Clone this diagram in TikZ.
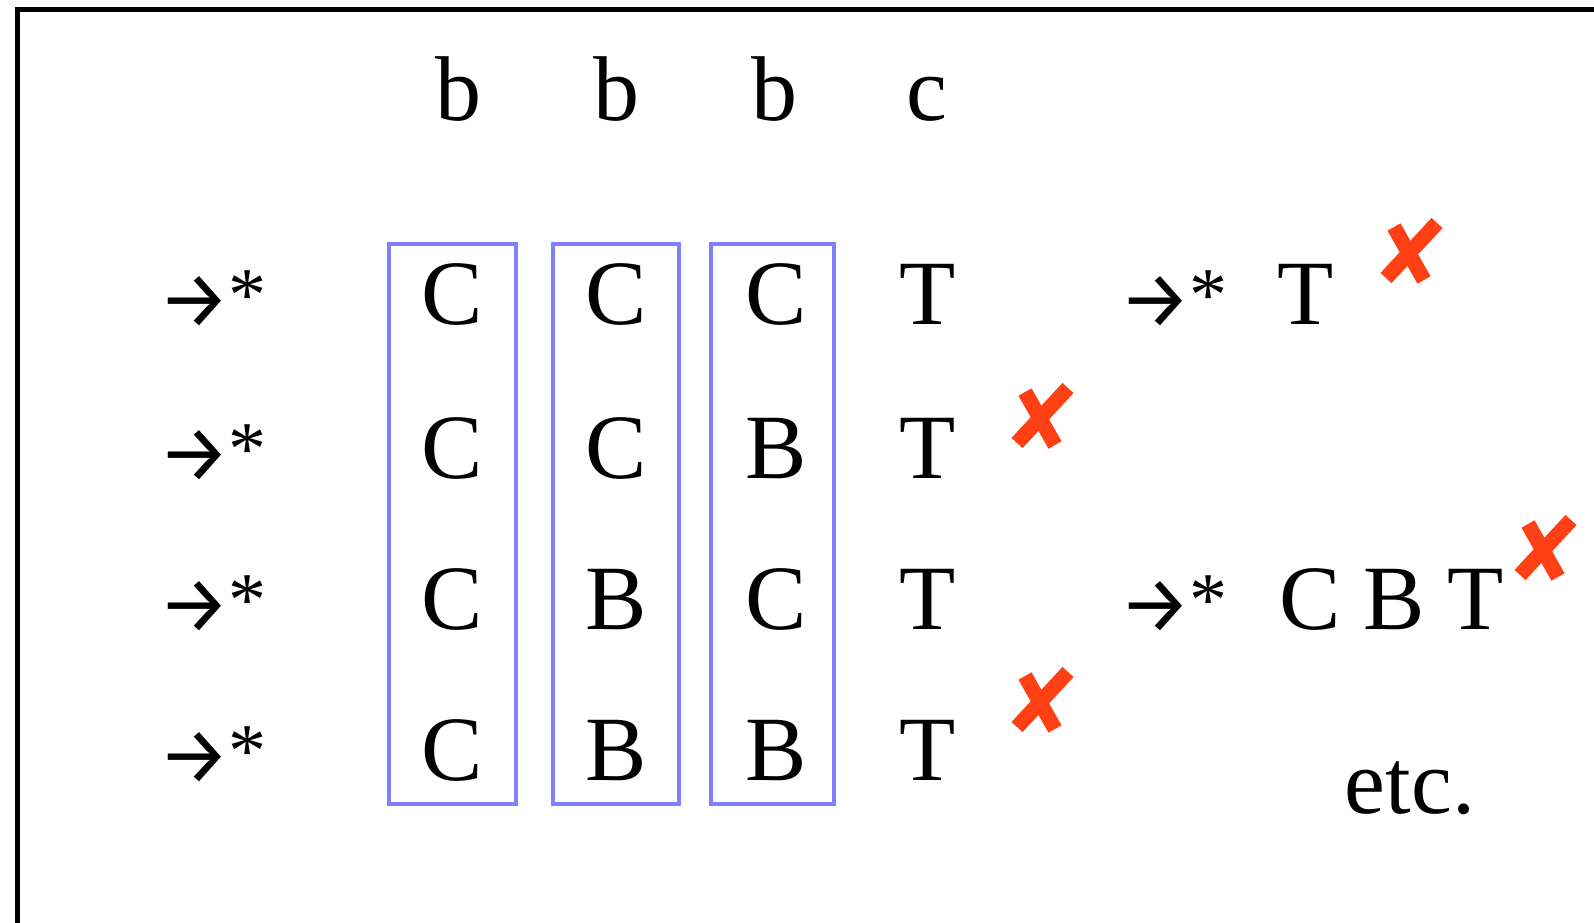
\documentclass[tikz,border=0pt]{standalone}
\usepackage{fontspec}
\setmainfont{Liberation Serif}
\newfontfamily\arrowfont{Fira Sans}
\definecolor{crossred}{RGB}{255,64,20}
\definecolor{boxblue}{RGB}{128,128,255}
\newcommand{\derivstar}{\makebox[70pt][l]{\arrowfont\fontsize{80}{80}\selectfont\raisebox{-3pt}{→}}\raisebox{4pt}{\fontsize{76}{76}\selectfont *}}
\begin{document}
\begin{tikzpicture}[x=1pt,y=-1pt,
  txt/.style={inner sep=0pt,anchor=base,font=\fontsize{92}{92}\selectfont},
  col/.style={draw=boxblue,line width=4pt},
  xstroke/.style={draw=crossred,line width=15pt},
  frameline/.style={draw=black,line width=5pt}]
\useasboundingbox (0,0) rectangle (1594,922);
\draw[frameline] (17,930) -- (17,9) -- (1600,9);
% header
\node[txt] (h1) at (458,120) {b};
\node[txt] (h2) at (616,120) {b};
\node[txt] (h3) at (774,120) {b};
\node[txt] (h4) at (927,120) {c};
% boxes
\draw[col] (389,244) rectangle (516,804);
\draw[col] (553,244) rectangle (679,804);
\draw[col] (711,244) rectangle (834,804);
% rows
\foreach \y/\a/\b/\c [count=\i] in {324/C/C/C,478/C/C/B,629/C/B/C,780/C/B/B}{
  \node[txt,anchor=base west] (ar\i) at (158,\y) {\derivstar};
  \node[txt] (c1r\i) at (452,\y) {\a};
  \node[txt] (c2r\i) at (616,\y) {\b};
  \node[txt] (c3r\i) at (776,\y) {\c};
  \node[txt] (tr\i) at (928,\y) {T};
}
\node[txt,anchor=base west] (ra1) at (1119,324) {\derivstar};
\node[txt] (rt1) at (1306,324) {T};
\node[txt,anchor=base west] (ra3) at (1119,629) {\derivstar};
\node[txt,anchor=base west] (rt3) at (1279,629) {C B T};
\node[txt] (etc) at (1410,813) {etc.};
% crosses
\foreach \cx/\cy in {1411/252,1042/417,1545/549,1042/701}{
  \draw[xstroke] (\cx-17,\cy-25) -- (\cx+13,\cy+28);
  \draw[xstroke] (\cx-25,\cy+26) -- (\cx+26,\cy-29);
}
\end{tikzpicture}
\end{document}
